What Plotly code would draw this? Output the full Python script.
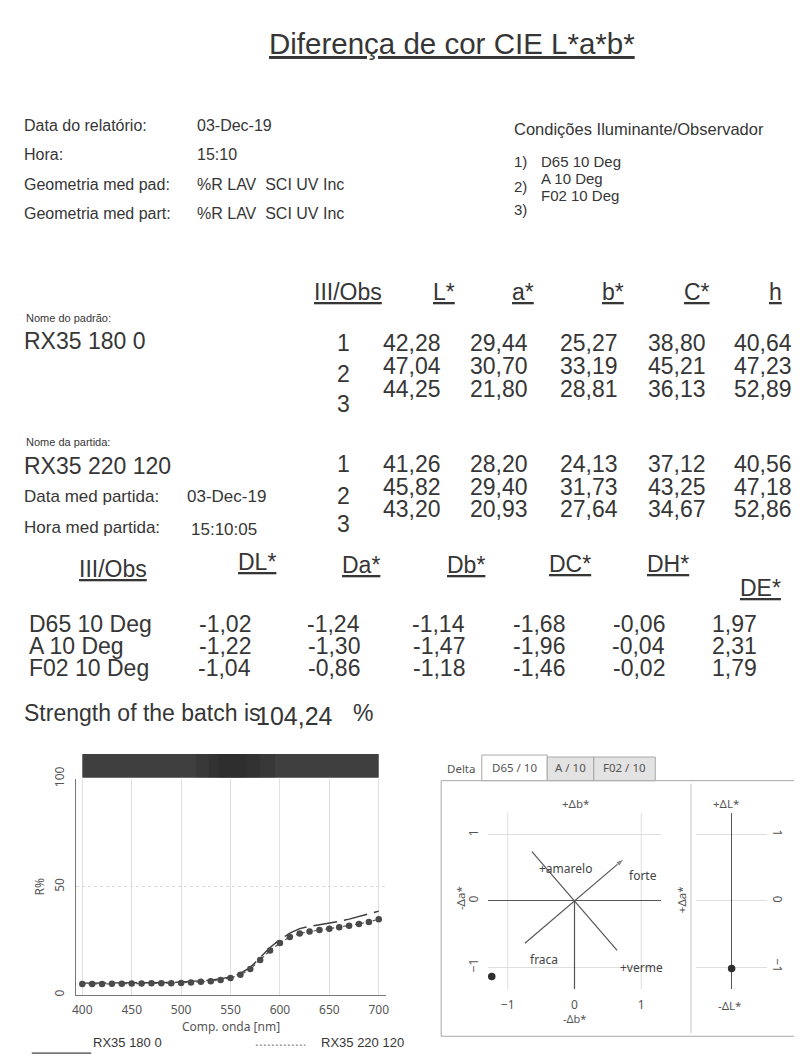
import math
import plotly.graph_objects as go

W, H = 806, 1057

# ---- report data -------------------------------------------------------
report_date = "03-Dec-19"
report_time = "15:10"
geometry = "%R LAV  SCI UV Inc"
illuminant_names = ["D65 10 Deg", "A 10 Deg", "F02 10 Deg"]
obs_index = ["1", "2", "3"]

standard_name = "RX35 180 0"
batch_name = "RX35 220 120"
batch_date = "03-Dec-19"
batch_time = "15:10:05"

std_L = [42.28, 47.04, 44.25]
std_a = [29.44, 30.70, 21.80]
std_b = [25.27, 33.19, 28.81]
std_C = [38.80, 45.21, 36.13]
std_h = [40.64, 47.23, 52.89]

bat_L = [41.26, 45.82, 43.20]
bat_a = [28.20, 29.40, 20.93]
bat_b = [24.13, 31.73, 27.64]
bat_C = [37.12, 43.25, 34.67]
bat_h = [40.56, 47.18, 52.86]

d_L = [-1.02, -1.22, -1.04]
d_a = [-1.24, -1.30, -0.86]
d_b = [-1.14, -1.47, -1.18]
d_C = [-1.68, -1.96, -1.46]
d_H = [-0.06, -0.04, -0.02]
d_E = [1.97, 2.31, 1.79]

strength = 104.24

# spectral reflectance curves
wavelengths = list(range(400, 701, 10))
refl_standard = [5.4, 5.4, 5.4, 5.4, 5.5, 5.5, 5.6, 5.6, 5.7, 5.7,
                 5.9, 6.1, 6.4, 6.8, 7.4, 8.3, 9.9, 12.7, 17.2, 21.9,
                 25.6, 28.5, 30.6, 31.7, 32.4, 33.1, 34.0, 35.0, 36.2, 37.6, 38.7]
refl_batch = [5.0, 5.0, 5.0, 5.1, 5.1, 5.2, 5.2, 5.3, 5.3, 5.4,
              5.5, 5.7, 6.0, 6.3, 6.9, 7.8, 9.3, 11.9, 16.1, 20.5,
              24.0, 26.8, 28.4, 29.3, 30.0, 30.6, 31.3, 32.0, 32.8, 33.7, 35.0]

delta_tabs = ["D65 / 10", "A / 10", "F02 / 10"]


# ---- helpers -----------------------------------------------------------
def fx(x):
    return x / W


def fy(y):
    return 1 - y / H


def num(v):
    return f"{v:.2f}".replace(".", ",")


DOC_FONT = "Liberation Sans, Arial, sans-serif"
CHART_FONT = "Noto Sans, Open Sans, sans-serif"
INK = "#363636"

annotations = []
shapes = []


def text(x, y, s, size, anchor="left", color=INK, family=DOC_FONT, angle=0):
    if family == DOC_FONT:
        y -= 3
        if anchor == "left":
            x -= 2
    annotations.append(dict(
        x=fx(x), y=fy(y), xref="paper", yref="paper", text=s, showarrow=False,
        xanchor=anchor, yanchor="middle", textangle=angle,
        font=dict(size=size, color=color, family=family)))


def line(x0, y0, x1, y1, color, width=1, dash=None, layer="above"):
    shapes.append(dict(type="line", xref="paper", yref="paper",
                       x0=fx(x0), x1=fx(x1), y0=fy(y0), y1=fy(y1),
                       line=dict(color=color, width=width, dash=dash),
                       layer=layer))


# ---- header ------------------------------------------------------------
text(452, 35, "<u>Diferença de cor CIE L*a*b*</u>", 29.5, "center")

left_rows = [("Data do relatório:", report_date, 118),
             ("Hora:", report_time, 147),
             ("Geometria med pad:", geometry, 178),
             ("Geometria med part:", geometry, 207)]
for label, value, y in left_rows:
    text(20, y, label, 16)
    text(195, y, value, 16)

text(514, 122, "Condições Iluminante/Observador", 16.5)
text(514, 155, "1)", 15)
text(514, 180, "2)", 15)
text(514, 203, "3)", 15)
for name, y in zip(illuminant_names, [155, 172, 189]):
    text(542, y, name, 15)

# ---- colorimetric table ------------------------------------------------
col_heads = ["L*", "a*", "b*", "C*", "h"]
col_head_x = [444, 524, 614, 699, 778]
col_right = [443, 531, 621, 710, 797]
TBL = 23

text(347, 287, "<u>III/Obs</u>", TBL, "center")
for h, x in zip(col_heads, col_head_x):
    text(x, 287, f"<u>{h}</u>", TBL, "center")

text(22, 313, "Nome do padrão:", 11)
text(20, 336, standard_name, TBL)
std_cols = [std_L, std_a, std_b, std_C, std_h]
for i, (idx, iy, ry) in enumerate(zip(obs_index, [338, 370, 400], [338, 362, 385])):
    text(342, iy, idx, TBL, "center")
    for col, xr in zip(std_cols, col_right):
        text(xr, ry, num(col[i]), TBL, "right")

text(22, 439, "Nome da partida:", 11)
text(20, 463, batch_name, TBL)
text(20, 494, "Data med partida:", 17)
text(185, 494, batch_date, 17)
text(20, 525, "Hora med partida:", 17)
text(189, 527, batch_time, 17)
bat_cols = [bat_L, bat_a, bat_b, bat_C, bat_h]
for i, (idx, iy, ry) in enumerate(zip(obs_index, [461, 494, 522], [461, 484, 507])):
    text(342, iy, idx, TBL, "center")
    for col, xr in zip(bat_cols, col_right):
        text(xr, ry, num(col[i]), TBL, "right")

# ---- difference table --------------------------------------------------
text(110, 567, "<u>III/Obs</u>", TBL, "center")
d_heads = ["DL*", "Da*", "Db*", "DC*", "DH*", "DE*"]
d_head_pos = [(255, 560), (360, 563), (466, 563), (571, 562), (670, 562), (763, 587)]
for h, (x, y) in zip(d_heads, d_head_pos):
    text(x, y, f"<u>{h}</u>", TBL, "center")

d_cols = [d_L, d_a, d_b, d_C, d_H, d_E]
d_right = [251, 361, 467, 568, 669, 762]
for i, (name, y) in enumerate(zip(illuminant_names, [623, 646, 668])):
    text(25, y, name, TBL)
    for col, xr in zip(d_cols, d_right):
        text(xr, y, num(col[i]), TBL, "right")

text(20, 713, "Strength of the batch is", TBL)
text(254, 716, num(strength), 25)
text(352, 713, "%", TBL)

# ---- spectral reflectance plot -----------------------------------------
fig = go.Figure()

fig.add_trace(go.Scatter(
    x=wavelengths, y=refl_standard, mode="lines", name=standard_name,
    line=dict(color="#3c3c3c", width=1.4, dash="24px,7px"),
    xaxis="x", yaxis="y", showlegend=False, hoverinfo="skip"))
fig.add_trace(go.Scatter(
    x=wavelengths, y=refl_batch, mode="lines+markers", name=batch_name,
    line=dict(color="#555555", width=1.2, dash="dot"),
    marker=dict(color="#4a4a4a", size=6.5),
    xaxis="x", yaxis="y", showlegend=False, hoverinfo="skip"))

# colour strip above the reflectance plot (soft darker zone around 550 nm)
shapes.append(dict(type="rect", xref="x", yref="paper",
                   x0=wavelengths[0], x1=wavelengths[-1],
                   y0=fy(776), y1=fy(752), fillcolor="#3f3f3f",
                   line=dict(width=0), layer="above"))
for lo, hi in [(515, 595), (528, 580), (538, 566)]:
    shapes.append(dict(type="rect", xref="x", yref="paper",
                       x0=lo, x1=hi, y0=fy(776), y1=fy(752),
                       fillcolor="#1e1e1e", opacity=0.22,
                       line=dict(width=0), layer="above"))

# legend below the plot
line(28, 1055, 88, 1055, "#444", 1.2)
text(90, 1047, standard_name, 13)
line(254, 1047, 304, 1047, "#666", 1, "2px,2px")
text(320, 1047, batch_name, 13)

# ---- Delta panel -------------------------------------------------------
frame_l, frame_r, frame_t, frame_b = 441, 797, 779, 1038
line(frame_l, frame_t, frame_r, frame_t, "#a8a8a8", 1, layer="below")
line(frame_l, frame_b, frame_r, frame_b, "#a8a8a8", 1, layer="below")
line(frame_l, frame_t, frame_l, frame_b, "#a8a8a8", 1, layer="below")
line(693, 782, 693, 1035, "#e2e2e2", 2, layer="below")

text(461, 767, "Delta", 11.5, "center", color="#555", family=CHART_FONT)
tab_edges = [482, 548, 595, 657]
for k, tab in enumerate(delta_tabs):
    x0, x1 = tab_edges[k], tab_edges[k + 1]
    selected = k == 0
    shapes.append(dict(type="rect", xref="paper", yref="paper",
                       x0=fx(x0), x1=fx(x1), y0=fy(frame_t),
                       y1=fy(753 if selected else 755),
                       fillcolor="#ffffff" if selected else "#e3e3e3",
                       line=dict(color="#a8a8a8", width=1), layer="below"))
    text((x0 + x1) / 2, 766, tab, 11.5, "center", color="#555", family=CHART_FONT)

# a*/b* plane: strength axis along the standard's hue angle, hue axis across it
hue = math.atan2(std_b[0], std_a[0])
reach = 0.98
ux, uy = math.cos(hue), math.sin(hue)

fig.add_trace(go.Scatter(
    x=[-reach * ux, reach * ux], y=[-reach * uy, reach * uy],
    mode="lines+markers", line=dict(color="#555", width=1.2),
    marker=dict(symbol=["circle", "arrow"], size=[0, 9], color="#555",
                angleref="previous"),
    xaxis="x2", yaxis="y2", showlegend=False, hoverinfo="skip"))
fig.add_trace(go.Scatter(
    x=[-reach * uy, reach * uy], y=[reach * ux, -reach * ux],
    mode="lines", line=dict(color="#555", width=1.2),
    xaxis="x2", yaxis="y2", showlegend=False, hoverinfo="skip"))
fig.add_trace(go.Scatter(
    x=[0, 0], y=[0, -1.33], mode="lines", line=dict(color="#555", width=1.2),
    xaxis="x2", yaxis="y2", showlegend=False, hoverinfo="skip"))
fig.add_trace(go.Scatter(
    x=[d_a[0]], y=[d_b[0]], mode="markers",
    marker=dict(color="#2e2e2e", size=7.5),
    xaxis="x2", yaxis="y2", showlegend=False, hoverinfo="skip"))

for gx in [-1, 1]:
    shapes.append(dict(type="line", xref="x2", yref="y2 domain",
                       x0=gx, x1=gx, y0=0, y1=1,
                       line=dict(color="#dedede", width=1), layer="below"))

# lightness scale
fig.add_trace(go.Scatter(
    x=[0], y=[d_L[0]], mode="markers", marker=dict(color="#2e2e2e", size=7.5),
    xaxis="x3", yaxis="y3", showlegend=False, hoverinfo="skip"))

LBL = "#555"
text(577, 802, "+Δb*", 11.5, "center", LBL, CHART_FONT)
text(576, 1020, "-Δb*", 11, "center", LBL, CHART_FONT)
text(460, 898, "-Δa*", 11.5, "center", LBL, CHART_FONT, angle=-90)
text(683, 900, "+Δa*", 11.5, "center", LBL, CHART_FONT, angle=-90)
text(728, 802, "+ΔL*", 11.5, "center", LBL, CHART_FONT)
text(732, 1007, "-ΔL*", 11.5, "center", LBL, CHART_FONT)
text(566, 868, "+amarelo", 12, "center", "#444", CHART_FONT)
text(645, 875, "forte", 12, "center", "#444", CHART_FONT)
text(545, 960, "fraca", 12, "center", "#444", CHART_FONT)
text(643, 968, "+verme", 12, "center", "#444", CHART_FONT)

# ---- layout ------------------------------------------------------------
tickfont = dict(family=CHART_FONT, size=12, color="#555")
d_top, d_bot = 811.5, 990.3

fig.update_layout(
    width=W, height=H, margin=dict(l=0, r=0, t=0, b=0),
    paper_bgcolor="white", plot_bgcolor="white",
    annotations=annotations, shapes=shapes, showlegend=False,
    xaxis=dict(domain=[fx(73), fx(385)], range=[394, 707],
               tickvals=[400, 450, 500, 550, 600, 650, 700],
               showgrid=True, gridcolor="#e0e0e0", zeroline=False,
               showline=True, linecolor="#777", linewidth=1.3,
               ticks="", tickfont=tickfont, ticklabelstandoff=4,
               title=dict(text="Comp. onda [nm]", font=tickfont, standoff=2),
               anchor="y"),
    yaxis=dict(domain=[fy(996), fy(777)], range=[0, 100],
               tickvals=[0, 50, 100], tickangle=-90,
               showgrid=True, gridcolor="#d8d8d8", griddash="dot",
               zeroline=False, showline=True, linecolor="#777", linewidth=1.3,
               ticks="", tickfont=tickfont, ticklabelstandoff=6,
               title=dict(text="R%", font=tickfont, standoff=4),
               anchor="x"),
    xaxis2=dict(domain=[fx(488), fx(663)], range=[-1.3, 1.3],
                tickvals=[-1, 0, 1], showgrid=False, zeroline=False,
                showline=False, ticks="", tickfont=tickfont,
                ticklabelstandoff=7, anchor="y2"),
    yaxis2=dict(domain=[fy(d_bot), fy(d_top)], range=[-1.33, 1.33],
                tickvals=[-1, 0, 1], tickangle=-90, showgrid=True,
                gridcolor="#dedede", zeroline=True, zerolinecolor="#555",
                zerolinewidth=1.2, showline=False, ticks="",
                tickfont=tickfont, ticklabelstandoff=6, anchor="x2"),
    xaxis3=dict(domain=[fx(698), fx(770)], range=[-1, 1],
                showticklabels=False, showgrid=False, zeroline=True,
                zerolinecolor="#555", zerolinewidth=1.2, showline=False,
                anchor="y3"),
    yaxis3=dict(domain=[fy(d_bot), fy(d_top)], range=[-1.33, 1.33],
                tickvals=[-1, 0, 1], tickangle=90, side="right",
                showgrid=True, gridcolor="#dedede", zeroline=False,
                showline=False, ticks="", tickfont=tickfont,
                ticklabelstandoff=2, anchor="x3"),
)

fig.write_html("out.html")
